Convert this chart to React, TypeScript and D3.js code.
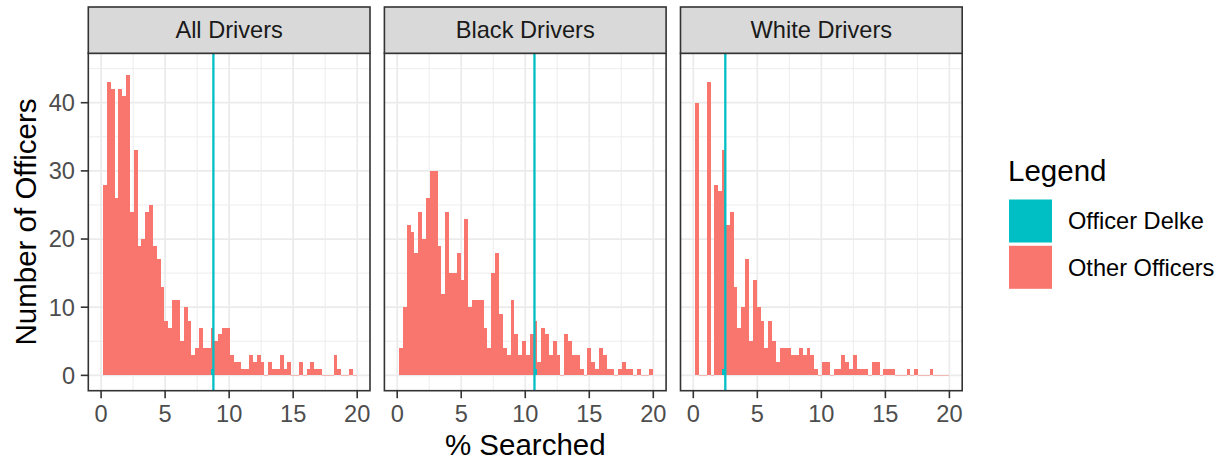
import React from 'react';
import * as d3 from 'd3';

// histogram of % searched, bins of 0.3 centred at 0.3, 0.6, ... 19.8
const binWidth = 0.3;

const panelNames = ['All Drivers', 'Black Drivers', 'White Drivers'];

// counts of other officers per bin
const allOther = [
  28, 43, 42, 26, 42, 41, 44, 24, 33, 19,
  20, 24, 25, 19, 17, 13, 8, 7, 11, 11,
  5, 10, 8, 3, 4, 7, 4, 4, 6, 5,
  6, 7, 7, 3, 2, 2, 1, 1, 3, 2,
  3, 2, 0, 2, 1, 1, 3, 1, 2, 0,
  0, 2, 0, 1, 2, 1, 1, 0, 0, 0,
  3, 1, 0, 0, 1, 0,
];
const blackOther = [
  4, 10, 22, 21, 18, 24, 20, 26, 30, 30,
  19, 12, 24, 15, 15, 18, 14, 23, 10, 11,
  11, 11, 7, 4, 15, 18, 9, 4, 3, 11,
  6, 3, 5, 3, 6, 7, 2, 7, 6, 3,
  5, 3, 0, 6, 5, 3, 3, 1, 0, 4,
  2, 1, 4, 3, 1, 1, 0, 1, 2, 1,
  1, 0, 1, 0, 0, 1,
];
const whiteOther = [
  40, 0, 0, 43, 0, 28, 27, 32, 22, 24,
  13, 7, 10, 17, 5, 14, 10, 8, 4, 8,
  5, 2, 4, 4, 4, 3, 3, 4, 3, 4,
  3, 1, 0, 2, 2, 0, 1, 1, 3, 2,
  1, 3, 1, 1, 1, 0, 2, 2, 0, 1,
  1, 1, 0, 0, 0, 1, 0, 1, 0, 0,
  0, 1, 0, 0, 0, 0,
];
const otherCounts = [allOther, blackOther, whiteOther];

// Officer Delke's own search rate in each panel
const delkePct = [8.77, 10.72, 2.5];

const xTicks = [0, 5, 10, 15, 20];
const xMinor = [2.5, 7.5, 12.5, 17.5];
const yTicks = [0, 10, 20, 30, 40];
const yMinor = [5, 15, 25, 35, 45];

const legendLabels = ['Officer Delke', 'Other Officers'];
const colors = ['#00BFC4', '#F8766D'];

const font = "'Liberation Sans', Arial, Helvetica, sans-serif";

const W = 1224;
const H = 464;
const left = 88.3;
const panelW = 281.7;
const gap = 14.4;
const stripTop = 7;
const plotTop = 53.3;
const plotBottom = 390.7;

const y = d3.scaleLinear().domain([-2.25, 47.25]).range([plotBottom, plotTop]);

const Panel = ({ idx }: { idx: number }) => {
  const x0 = left + idx * (panelW + gap);
  const x = d3.scaleLinear().domain([-1, 21]).range([x0, x0 + panelW]);
  const delkeBin = Math.round(delkePct[idx] / binWidth);
  const bins = otherCounts[idx].map((c, i) => {
    const mid = binWidth * (i + 1);
    const d = i + 1 === delkeBin ? 1 : 0;
    return { lo: mid - binWidth / 2, hi: mid + binWidth / 2, delke: d, other: c };
  });

  return (
    <g>
      <rect x={x0} y={plotTop} width={panelW} height={plotBottom - plotTop} fill="#fff" />
      {xMinor.map((t) => (
        <line key={'xm' + t} x1={x(t)} x2={x(t)} y1={plotTop} y2={plotBottom} stroke="#EBEBEB" strokeWidth={0.9} />
      ))}
      {yMinor.map((t) => (
        <line key={'ym' + t} x1={x0} x2={x0 + panelW} y1={y(t)} y2={y(t)} stroke="#EBEBEB" strokeWidth={0.9} />
      ))}
      {xTicks.map((t) => (
        <line key={'xg' + t} x1={x(t)} x2={x(t)} y1={plotTop} y2={plotBottom} stroke="#EBEBEB" strokeWidth={1.7} />
      ))}
      {yTicks.map((t) => (
        <line key={'yg' + t} x1={x0} x2={x0 + panelW} y1={y(t)} y2={y(t)} stroke="#EBEBEB" strokeWidth={1.7} />
      ))}

      <g shapeRendering="crispEdges">
        {bins.map((b, i) => {
          const total = b.delke + b.other;
          if (total === 0) {
            return (
              <rect key={'z' + i} x={x(b.lo)} y={y(0) - 0.5} width={x(b.hi) - x(b.lo)} height={1}
                fill="#F2B8B3" />
            );
          }
          return (
            <g key={'b' + i}>
              {b.delke > 0 && (
                <rect x={x(b.lo)} y={y(b.delke)} width={x(b.hi) - x(b.lo)} height={y(0) - y(b.delke)}
                  fill={colors[0]} />
              )}
              {b.other > 0 && (
                <rect x={x(b.lo)} y={y(total)} width={x(b.hi) - x(b.lo)} height={y(b.delke) - y(total)}
                  fill={colors[1]} />
              )}
            </g>
          );
        })}
      </g>

      <line x1={x(delkePct[idx])} x2={x(delkePct[idx])} y1={plotTop} y2={plotBottom}
        stroke={colors[0]} strokeWidth={2.3} />

      <rect x={x0} y={plotTop} width={panelW} height={plotBottom - plotTop} fill="none"
        stroke="#333333" strokeWidth={1.6} />

      {/* strip */}
      <rect x={x0} y={stripTop} width={panelW} height={plotTop - stripTop} fill="#D9D9D9"
        stroke="#333333" strokeWidth={1.6} />
      <text x={x0 + panelW / 2} y={30} dominantBaseline="central" textAnchor="middle"
        fontSize={23.6} fill="#1A1A1A" fontFamily={font}>{panelNames[idx]}</text>

      {/* x axis */}
      {xTicks.map((t) => (
        <g key={'xt' + t}>
          <line x1={x(t)} x2={x(t)} y1={plotBottom} y2={plotBottom + 7.5} stroke="#333333" strokeWidth={1.6} />
          <text x={x(t)} y={422} textAnchor="middle" fontSize={23.6} fill="#4D4D4D" fontFamily={font}>{t}</text>
        </g>
      ))}
    </g>
  );
};

const App = () => {
  return (
    <svg width={W} height={H} style={{ position: 'absolute', left: 0, top: 0, background: '#fff' }}>
      <rect width={W} height={H} fill="#fff" />
      {panelNames.map((_, i) => (
        <Panel key={i} idx={i} />
      ))}

      {/* y axis, first panel only */}
      {yTicks.map((t) => (
        <g key={'yt' + t}>
          <line x1={left - 7.5} x2={left} y1={y(t)} y2={y(t)} stroke="#333333" strokeWidth={1.6} />
          <text x={75} y={y(t) + 8.4} textAnchor="end" fontSize={23.6} fill="#4D4D4D" fontFamily={font}>{t}</text>
        </g>
      ))}

      <text x={left + (3 * panelW + 2 * gap) / 2} y={455} textAnchor="middle" fontSize={29.5}
        fill="#000" fontFamily={font}>% Searched</text>
      <text transform={`translate(36,${(plotTop + plotBottom) / 2}) rotate(-90)`} textAnchor="middle"
        fontSize={29.5} fill="#000" fontFamily={font}>Number of Officers</text>

      {/* legend */}
      <text x={1008} y={181} fontSize={29.5} fill="#000" fontFamily={font}>Legend</text>
      {legendLabels.map((lab, i) => (
        <g key={lab}>
          <rect x={1009} y={199.5 + i * 46.3} width={43} height={43} fill={colors[i]} />
          <text x={1068} y={221 + i * 46.3 + 8.4} fontSize={23.6} fill="#000" fontFamily={font}>{lab}</text>
        </g>
      ))}
    </svg>
  );
};

export default App;
